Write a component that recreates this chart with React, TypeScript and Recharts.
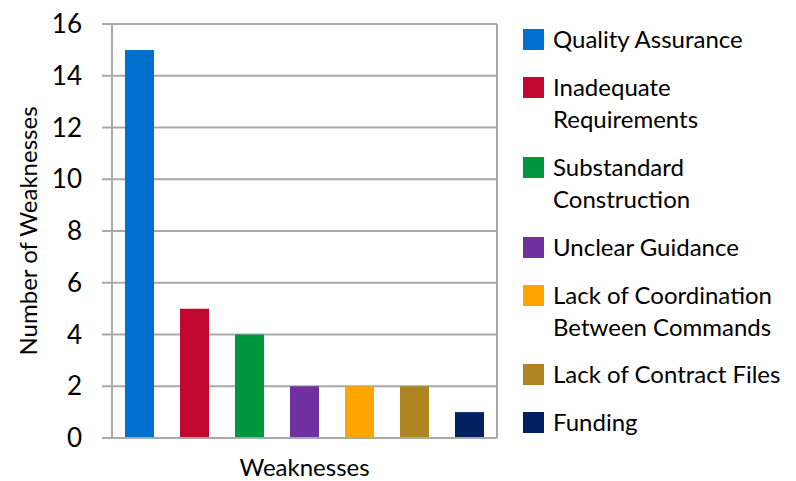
import React from 'react';
import { BarChart, Bar, XAxis, YAxis, CartesianGrid } from 'recharts';

const categories = ['Weaknesses'];
const seriesNames = [
  'Quality Assurance',
  'Inadequate Requirements',
  'Substandard Construction',
  'Unclear Guidance',
  'Lack of Coordination Between Commands',
  'Lack of Contract Files',
  'Funding',
];
const seriesValues = [15, 5, 4, 2, 2, 2, 1];
const seriesColors = ['#0070ce', '#c3082f', '#00963e', '#7030a0', '#ffa500', '#af8522', '#00205f'];
const yTicks = [0, 2, 4, 6, 8, 10, 12, 14, 16];

const data = categories.map((c) => {
  const row: Record<string, string | number> = { category: c };
  seriesNames.forEach((_, i) => {
    row['s' + i] = seriesValues[i];
  });
  return row;
});

const GRID = '#a9a9a9';
const FONT = 'Lato, "Open Sans", sans-serif';

const YLabel = (props: any) => {
  const vb = props.viewBox || { x: 0, y: 0, width: 0, height: 0 };
  const cx = vb.x + 27;
  const cy = vb.y + vb.height / 2;
  return (
    <text
      x={cx}
      y={cy}
      transform={`rotate(-90, ${cx}, ${cy})`}
      textAnchor="middle"
      dominantBaseline="central"
      fontSize={24}
      fill="#000"
      fontFamily={FONT}
    >
      Number of Weaknesses
    </text>
  );
};

export default function App() {
  return (
    <div style={{ position: 'absolute', left: 0, top: 0, width: 796, height: 481, background: '#fff', fontFamily: FONT }}>
      <BarChart
        width={796}
        height={481}
        data={data}
        margin={{ top: 24, right: 299, bottom: 0, left: 0 }}
        barCategoryGap={0}
        barGap={26}
        style={{ fontFamily: FONT }}
      >
        <CartesianGrid
          stroke={GRID}
          strokeWidth={2}
          verticalCoordinatesGenerator={({ offset }: any) => [offset.left, offset.left + offset.width]}
        />
        <XAxis
          dataKey="category"
          tick={false}
          tickLine={false}
          height={43}
          axisLine={{ stroke: GRID, strokeWidth: 2 }}
          label={{ value: 'Weaknesses', position: 'insideBottom', offset: 5, fill: '#000', fontSize: 24 }}
        />
        <YAxis
          width={112}
          domain={[0, 16]}
          ticks={yTicks}
          interval={0}
          tickSize={10}
          tickMargin={20}
          tick={{ fill: '#000', fontSize: 26 }}
          tickLine={{ stroke: GRID, strokeWidth: 2 }}
          axisLine={{ stroke: GRID, strokeWidth: 2 }}
          label={<YLabel />}
        />
        {seriesNames.map((name, i) => (
          <Bar
            key={name}
            dataKey={'s' + i}
            name={name}
            fill={seriesColors[i]}
            barSize={29}
            isAnimationActive={false}
          />
        ))}
      </BarChart>
      <div style={{ position: 'absolute', left: 523, top: 23, width: 270 }}>
        {seriesNames.map((name, i) => (
          <div key={name} style={{ display: 'flex', alignItems: 'flex-start', marginBottom: 15.9 }}>
            <div style={{ width: 21, height: 21, background: seriesColors[i], marginTop: 6, flex: '0 0 21px' }} />
            <div style={{ marginLeft: 9, fontSize: 24, lineHeight: '32px', color: '#000', width: 238 }}>{name}</div>
          </div>
        ))}
      </div>
    </div>
  );
}
